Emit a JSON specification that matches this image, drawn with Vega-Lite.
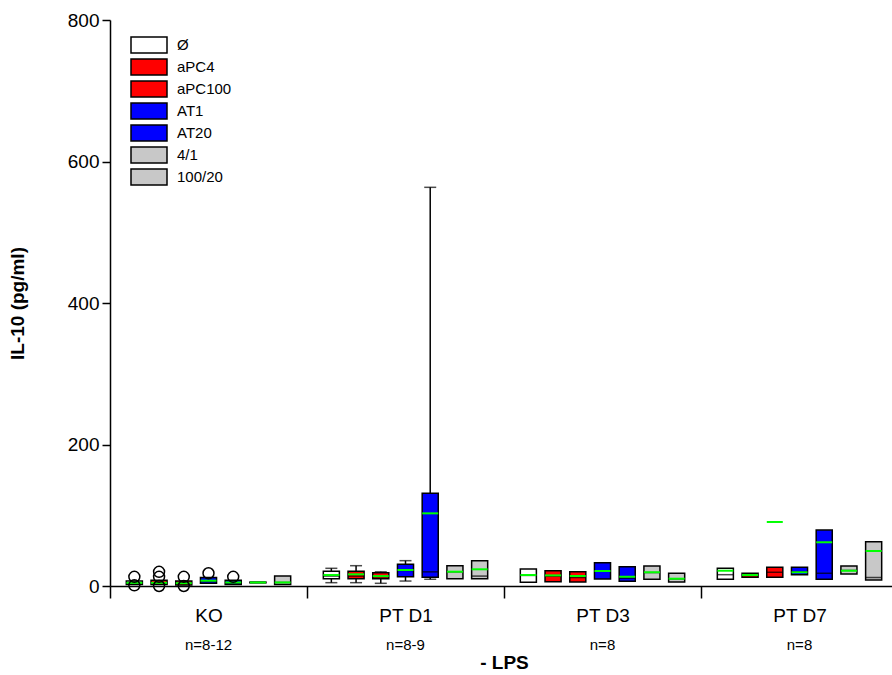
{
  "$schema": "https://vega.github.io/schema/vega-lite/v6.json",
  "width": 788,
  "height": 566,
  "autosize": {"type": "none"},
  "padding": {"left": 110, "top": 20, "right": 0, "bottom": 89},
  "background": "white",
  "config": {
    "view": {"stroke": null},
    "font": "Liberation Sans",
    "axis": {"domainColor": "black", "tickColor": "black", "labelColor": "black", "titleColor": "black", "grid": false, "domainWidth": 1.5, "tickWidth": 1.5, "labelFont": "Liberation Sans", "titleFont": "Liberation Sans"}
  },
  "datasets": {
    "boxes": [
      {"g": "KO", "t": "Ø", "lo": null, "q1": 2, "med": 4, "q3": 7, "hi": null, "mean": 4.5},
      {"g": "KO", "t": "aPC4", "lo": null, "q1": 2, "med": 4, "q3": 8, "hi": null, "mean": 4.5},
      {"g": "KO", "t": "aPC100", "lo": null, "q1": 1.5, "med": 3.5, "q3": 7, "hi": null, "mean": 4},
      {"g": "KO", "t": "AT1", "lo": null, "q1": 4, "med": 7, "q3": 12, "hi": null, "mean": 7.5},
      {"g": "KO", "t": "AT20", "lo": null, "q1": 2, "med": 4, "q3": 8, "hi": null, "mean": 5},
      {"g": "KO", "t": "4/1", "lo": null, "q1": 4.5, "med": 5, "q3": 5.5, "hi": null, "mean": 5},
      {"g": "KO", "t": "100/20", "lo": null, "q1": 2, "med": 5, "q3": 14, "hi": null, "mean": 5},
      {"g": "PT D1", "t": "Ø", "lo": 4.7, "q1": 10.3, "med": 14, "q3": 21, "hi": 25, "mean": 15.5},
      {"g": "PT D1", "t": "aPC4", "lo": 4.7, "q1": 10.3, "med": 14, "q3": 21, "hi": 28.7, "mean": 16.5},
      {"g": "PT D1", "t": "aPC100", "lo": 3.8, "q1": 10.3, "med": 13, "q3": 18.8, "hi": 20, "mean": 14},
      {"g": "PT D1", "t": "AT1", "lo": 7, "q1": 13.1, "med": 22, "q3": 30.7, "hi": 35.8, "mean": 22.6},
      {"g": "PT D1", "t": "AT20", "lo": 9.5, "q1": 12.3, "med": 20, "q3": 131, "hi": 563.5, "mean": 102.7},
      {"g": "PT D1", "t": "4/1", "lo": null, "q1": 10.3, "med": 20, "q3": 28.7, "hi": null, "mean": 20.2},
      {"g": "PT D1", "t": "100/20", "lo": null, "q1": 10.3, "med": 14, "q3": 35.8, "hi": null, "mean": 23.6},
      {"g": "PT D3", "t": "Ø", "lo": null, "q1": 5.2, "med": 15, "q3": 24, "hi": null, "mean": 15.5},
      {"g": "PT D3", "t": "aPC4", "lo": null, "q1": 6.1, "med": 14, "q3": 21.6, "hi": null, "mean": 15},
      {"g": "PT D3", "t": "aPC100", "lo": null, "q1": 5.7, "med": 12, "q3": 20.2, "hi": null, "mean": 14.1},
      {"g": "PT D3", "t": "AT1", "lo": null, "q1": 9.9, "med": 21, "q3": 33, "hi": null, "mean": 21.2},
      {"g": "PT D3", "t": "AT20", "lo": null, "q1": 6.6, "med": 11, "q3": 27.3, "hi": null, "mean": 13.2},
      {"g": "PT D3", "t": "4/1", "lo": null, "q1": 9.4, "med": 19, "q3": 28.3, "hi": null, "mean": 19.4},
      {"g": "PT D3", "t": "100/20", "lo": null, "q1": 5.7, "med": 10, "q3": 18, "hi": null, "mean": 10.3},
      {"g": "PT D7", "t": "Ø", "lo": null, "q1": 9.5, "med": 16, "q3": 25, "hi": null, "mean": 21.6},
      {"g": "PT D7", "t": "aPC4", "lo": null, "q1": 12.3, "med": 15, "q3": 18, "hi": null, "mean": 15.5},
      {"g": "PT D7", "t": "aPC100", "lo": null, "q1": 12.3, "med": 19.4, "q3": 26.4, "hi": null, "mean": 90.5},
      {"g": "PT D7", "t": "AT1", "lo": null, "q1": 16, "med": 20, "q3": 26.4, "hi": null, "mean": 19.4},
      {"g": "PT D7", "t": "AT20", "lo": null, "q1": 9.5, "med": 18, "q3": 79, "hi": null, "mean": 61.8},
      {"g": "PT D7", "t": "4/1", "lo": null, "q1": 17, "med": 22, "q3": 28.3, "hi": null, "mean": 21.6},
      {"g": "PT D7", "t": "100/20", "lo": null, "q1": 8.5, "med": 12, "q3": 62.6, "hi": null, "mean": 49.5}
    ],
    "outliers": [
      {"g": "KO", "t": "Ø", "v": 13},
      {"g": "KO", "t": "Ø", "v": 1},
      {"g": "KO", "t": "aPC4", "v": 20},
      {"g": "KO", "t": "aPC4", "v": 13},
      {"g": "KO", "t": "aPC4", "v": 0},
      {"g": "KO", "t": "aPC100", "v": 13},
      {"g": "KO", "t": "aPC100", "v": 0},
      {"g": "KO", "t": "AT1", "v": 18},
      {"g": "KO", "t": "AT20", "v": 13}
    ],
    "nlabels": [
      {"g": "KO", "n": "n=8-12"},
      {"g": "PT D1", "n": "n=8-9"},
      {"g": "PT D3", "n": "n=8"},
      {"g": "PT D7", "n": "n=8"}
    ]
  },
  "encoding": {
    "x": {
      "field": "g", "type": "nominal",
      "sort": ["KO", "PT D1", "PT D3", "PT D7"],
      "scale": {"paddingInner": 0, "paddingOuter": 0},
      "axis": {"title": "- LPS", "titleFontSize": 19, "titleFontWeight": "bold", "titlePadding": 28, "labelFontSize": 19, "labelPadding": 8, "labelAngle": 0, "tickSize": 12, "tickBand": "extent", "domainWidth": 1.5}
    }
  },
  "layer": [
    {
      "data": {"name": "boxes"},
      "transform": [{"filter": "datum.lo != null"}],
      "mark": {"type": "rule", "color": "black", "strokeWidth": 1.5},
      "encoding": {
        "xOffset": {"field": "t", "type": "nominal", "sort": ["Ø", "aPC4", "aPC100", "AT1", "AT20", "4/1", "100/20"], "scale": {"paddingInner": 0.35, "paddingOuter": 0.66}},
        "y": {"field": "lo", "type": "quantitative", "scale": {"domain": [0, 800], "nice": false}, "title": "IL-10 (pg/ml)", "axis": {"values": [0, 200, 400, 600, 800], "tickSize": 8, "labelFontSize": 19, "labelPadding": 3, "titleFontSize": 19, "titleFontWeight": "bold", "titlePadding": 40}},
        "y2": {"field": "hi"}
      }
    },
    {
      "data": {"name": "boxes"},
      "transform": [{"filter": "datum.lo != null"}],
      "mark": {"type": "tick", "color": "black", "thickness": 1.5, "size": 12, "orient": "horizontal"},
      "encoding": {
        "xOffset": {"field": "t", "type": "nominal", "sort": ["Ø", "aPC4", "aPC100", "AT1", "AT20", "4/1", "100/20"]},
        "y": {"field": "lo", "type": "quantitative", "title": "IL-10 (pg/ml)"}
      }
    },
    {
      "data": {"name": "boxes"},
      "transform": [{"filter": "datum.hi != null"}],
      "mark": {"type": "tick", "color": "black", "thickness": 1.5, "size": 12, "orient": "horizontal"},
      "encoding": {
        "xOffset": {"field": "t", "type": "nominal", "sort": ["Ø", "aPC4", "aPC100", "AT1", "AT20", "4/1", "100/20"]},
        "y": {"field": "hi", "type": "quantitative", "title": "IL-10 (pg/ml)"}
      }
    },
    {
      "data": {"name": "boxes"},
      "mark": {"type": "bar", "stroke": "black", "strokeWidth": 1.5, "opacity": 1},
      "encoding": {
        "xOffset": {"field": "t", "type": "nominal", "sort": ["Ø", "aPC4", "aPC100", "AT1", "AT20", "4/1", "100/20"]},
        "y": {"field": "q1", "type": "quantitative", "title": "IL-10 (pg/ml)"},
        "y2": {"field": "q3"},
        "fill": {
          "field": "t", "type": "nominal",
          "scale": {"domain": ["Ø", "aPC4", "aPC100", "AT1", "AT20", "4/1", "100/20"], "range": ["#ffffff", "#ff0000", "#ff0000", "#0000ff", "#0000ff", "#c8c8c8", "#c8c8c8"]},
          "legend": {"orient": "none", "legendX": 30, "legendY": 16, "title": null, "symbolType": "M-2.25,-1H2.25V1H-2.25Z", "symbolSize": 256, "symbolStrokeColor": "black", "symbolStrokeWidth": 1.5, "symbolOpacity": 1, "labelFontSize": 15, "labelOffset": 19, "rowPadding": 0, "labelFont": "Liberation Sans", "labelColor": "black"}
        }
      }
    },
    {
      "data": {"name": "boxes"},
      "mark": {"type": "tick", "color": "black", "thickness": 1.5, "size": 16, "orient": "horizontal"},
      "encoding": {
        "xOffset": {"field": "t", "type": "nominal", "sort": ["Ø", "aPC4", "aPC100", "AT1", "AT20", "4/1", "100/20"]},
        "y": {"field": "med", "type": "quantitative", "title": "IL-10 (pg/ml)"}
      }
    },
    {
      "data": {"name": "boxes"},
      "mark": {"type": "tick", "color": "#00ff00", "thickness": 2, "size": 16, "orient": "horizontal", "opacity": 1},
      "encoding": {
        "xOffset": {"field": "t", "type": "nominal", "sort": ["Ø", "aPC4", "aPC100", "AT1", "AT20", "4/1", "100/20"]},
        "y": {"field": "mean", "type": "quantitative", "title": "IL-10 (pg/ml)"}
      }
    },
    {
      "data": {"name": "outliers"},
      "mark": {"type": "point", "shape": "circle", "filled": false, "stroke": "black", "strokeWidth": 1.5, "size": 120, "opacity": 1},
      "encoding": {
        "xOffset": {"field": "t", "type": "nominal", "sort": ["Ø", "aPC4", "aPC100", "AT1", "AT20", "4/1", "100/20"]},
        "y": {"field": "v", "type": "quantitative", "title": "IL-10 (pg/ml)"}
      }
    },
    {
      "data": {"name": "nlabels"},
      "mark": {"type": "text", "fontSize": 15, "dy": 59, "color": "black", "font": "Liberation Sans"},
      "encoding": {
        "y": {"datum": 0, "type": "quantitative", "title": "IL-10 (pg/ml)"},
        "text": {"field": "n"}
      }
    }
  ]
}
